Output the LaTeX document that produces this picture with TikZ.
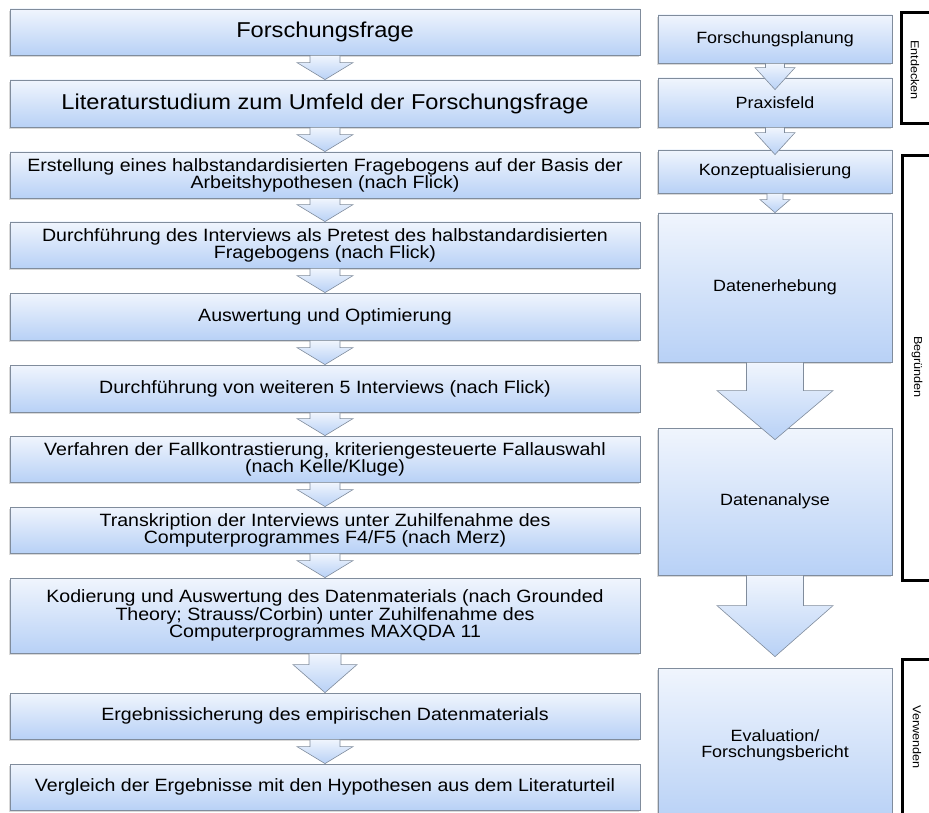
\documentclass[tikz,border=0pt]{standalone}
\usepackage{fontspec}
\setmainfont{Liberation Sans}[FakeStretch=1.1]
\usetikzlibrary{calc,shadows}
\definecolor{boxtop}{RGB}{240,245,253}
\definecolor{boxbot}{RGB}{184,209,246}
\definecolor{boxline}{RGB}{128,140,156}
\newcommand\tightlines{\lineskiplimit=-30pt\relax}
\tikzset{
  box/.style={draw=boxline, line width=0.8pt, top color=boxtop, bottom color=boxbot,
    drop shadow={opacity=0.3, shadow xshift=-1pt, shadow yshift=-1.6pt},
    inner sep=2pt, align=center, text=black},
  smalltext/.style={font={\fontsize{17.8}{17.2}\selectfont\tightlines}},
  bigtext/.style={font={\fontsize{21.5}{24}\selectfont}},
  righttext/.style={font={\fontsize{16.3}{16}\selectfont\tightlines}},
  lbox/.style={box, minimum width=630pt, minimum height=46pt, smalltext},
  rbox/.style={box, minimum width=234pt, righttext},
  arrowshape/.style={draw=boxline, line width=0.6pt, top color=boxtop, bottom color=boxbot},
  bracket/.style={draw=black, line width=3pt},
  vlabel/.style={rotate=-90, font={\fontsize{11.5}{13}\selectfont}, inner sep=0pt}
}
% start, tip, shaft half width, head half width, head length
\newcommand\blockarrow[5]{%
  \path[arrowshape] ($(#1)+(-#3,0)$) -- ($(#2)+(-#3,-#5)$) -- ($(#2)+(-#4,-#5)$) -- (#2)
    -- ($(#2)+(#4,-#5)$) -- ($(#2)+(#3,-#5)$) -- ($(#1)+(#3,0)$) -- cycle;}
\begin{document}
\begin{tikzpicture}[x=1pt,y=-1pt]
\useasboundingbox (0,0) rectangle (929,813);
% left column
\node[lbox, bigtext] (b1) at (325,32) {Forschungsfrage};
\node[lbox, bigtext, minimum height=47pt] (b2) at (325,103.5) {Literaturstudium zum Umfeld der Forschungsfrage};
\node[lbox] (b3) at (325,175) {Erstellung eines halbstandardisierten Fragebogens auf der Basis der\\Arbeitshypothesen (nach Flick)};
\node[lbox] (b4) at (325,245) {Durchführung des Interviews als Pretest des halbstandardisierten\\Fragebogens (nach Flick)};
\node[lbox, minimum height=47pt] (b5) at (325,316.5) {Auswertung und Optimierung};
\node[lbox, minimum height=47pt] (b6) at (325,388.5) {Durchführung von weiteren 5 Interviews (nach Flick)};
\node[lbox] (b7) at (325,459) {Verfahren der Fallkontrastierung, kriteriengesteuerte Fallauswahl\\(nach Kelle/Kluge)};
\node[lbox] (b8) at (325,530) {Transkription der Interviews unter Zuhilfenahme des\\Computerprogrammes F4/F5 (nach Merz)};
\node[lbox, minimum height=75pt] (b9) at (325,615.5) {Kodierung und Auswertung des Datenmaterials (nach Grounded\\Theory; Strauss/Corbin) unter Zuhilfenahme des\\Computerprogrammes MAXQDA 11};
\node[lbox] (b10) at (325,716) {Ergebnissicherung des empirischen Datenmaterials};
\node[lbox] (b11) at (325,787) {Vergleich der Ergebnisse mit den Hypothesen aus dem Literaturteil};
% left arrows
\blockarrow{b1.south}{b2.north}{15}{28}{17}
\blockarrow{b2.south}{b3.north}{15}{28}{17}
\blockarrow{b3.south}{b4.north}{15}{28}{17}
\blockarrow{b4.south}{b5.north}{15}{28}{17}
\blockarrow{b5.south}{b6.north}{15}{28}{17}
\blockarrow{b6.south}{b7.north}{15}{28}{17}
\blockarrow{b7.south}{b8.north}{15}{28}{17}
\blockarrow{b8.south}{b9.north}{15}{28}{17}
\blockarrow{b9.south}{b10.north}{16}{32}{28}
\blockarrow{b10.south}{b11.north}{15}{28}{17}
% right column
\node[rbox, minimum height=48pt] (r1) at (775,39) {Forschungsplanung};
\node[rbox, minimum height=49pt] (r2) at (775,102.5) {Praxisfeld};
\node[rbox, minimum height=43pt] (r3) at (775,171.5) {Konzeptualisierung};
\node[rbox, minimum height=149pt] (r4) at (775,287.5) {Datenerhebung};
\node[rbox, minimum height=147pt] (r5) at (775,501.5) {Datenanalyse};
\node[rbox, minimum height=154pt] (r6) at (775,745) {Evaluation/\\Forschungsbericht};
\coordinate (t12) at ($(r2.north)+(0,12)$);
\coordinate (t23) at ($(r3.north)+(0,5)$);
\coordinate (t45) at ($(r5.north)+(0,12)$);
\coordinate (t56) at ($(r6.north)+(0,-11)$);
\blockarrow{r1.south}{t12}{9.5}{20}{22}
\blockarrow{r2.south}{t23}{9.5}{20}{22}
\blockarrow{r3.south}{r4.north}{8}{15}{13}
\blockarrow{r4.south}{t45}{28.5}{58}{49}
\blockarrow{r5.south}{t56}{28.5}{58}{51}
% brackets
\draw[bracket] (940,13) -- (901,13) -- (901,124) -- (940,124);
\draw[bracket] (940,156) -- (902,156) -- (902,580) -- (940,580);
\draw[bracket] (940,659) -- (902,659) -- (902,830);
\node[vlabel] (l1) at (915,70) {Entdecken};
\node[vlabel] (l2) at (917,367) {Begründen};
\node[vlabel] (l3) at (917,737) {Verwenden};
\end{tikzpicture}
\end{document}
